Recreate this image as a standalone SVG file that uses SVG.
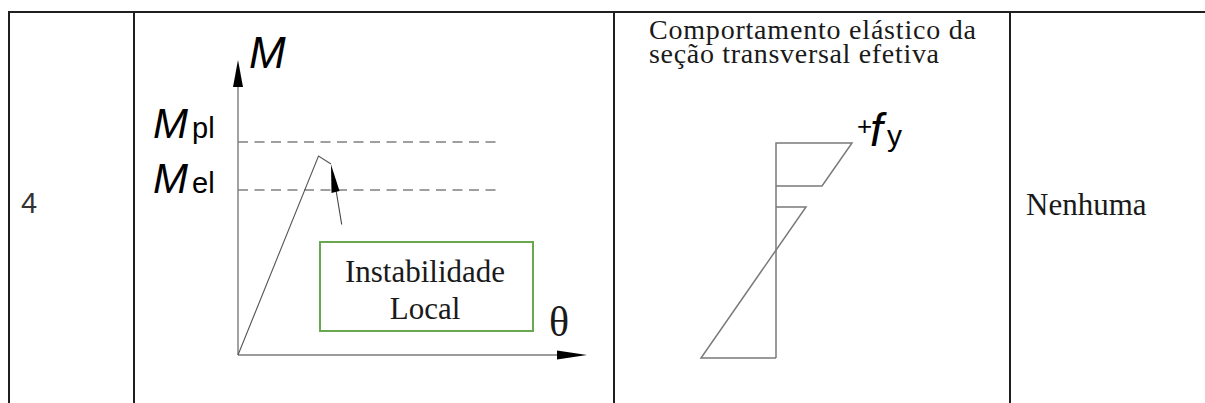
<svg xmlns="http://www.w3.org/2000/svg" width="1205" height="403" viewBox="0 0 1205 403">
  <style>
    .grid { stroke: #1f1f1f; stroke-width: 2; fill: none; }
    .axis { stroke: #7a7a7a; stroke-width: 1.4; fill: none; }
    .dash { stroke: #808080; stroke-width: 1.3; stroke-dasharray: 10 6.5; fill: none; }
    .curve { stroke: #555; stroke-width: 1.1; fill: none; }
    .stress { stroke: #7a7a7a; stroke-width: 1.5; fill: none; }
    .serif { font-family: "Liberation Serif", "Times New Roman", serif; fill: #1a1a1a; }
    .sans { font-family: "Liberation Sans", Arial, sans-serif; fill: #000; }
    .ital { font-style: italic; }
  </style>
  <rect width="1205" height="403" fill="#fff"/>

  <g id="table">
    <line class="grid" x1="8" y1="12" x2="1205" y2="12"/>
    <line class="grid" x1="9" y1="12" x2="9" y2="403"/>
    <line class="grid" x1="134" y1="12" x2="134" y2="403"/>
    <line class="grid" x1="614" y1="12" x2="614" y2="403"/>
    <line class="grid" x1="1010" y1="12" x2="1010" y2="403"/>
  </g>

  <g id="cell-number">
    <text class="sans" x="21" y="213" font-size="29" style="fill:#333">4</text>
  </g>

  <g id="moment-graph">
    <line class="axis" x1="238" y1="355" x2="238" y2="84"/>
    <path d="M238,60 L233,87 L243,87 Z" fill="#000"/>
    <line class="axis" x1="238" y1="355" x2="560" y2="355"/>
    <path d="M587,355 L557,350.5 L557,359.5 Z" fill="#000"/>
    <line class="dash" x1="238" y1="142" x2="498" y2="142"/>
    <line class="dash" x1="238" y1="190" x2="498" y2="190"/>
    <polyline class="curve" points="238,355 318.5,156 331,164"/>
    <text class="sans ital" x="249" y="68" font-size="44">M</text>
    <text class="sans" x="153" y="138" font-size="42"><tspan class="ital">M</tspan><tspan font-size="29" dx="4">pl</tspan></text>
    <text class="sans" x="153" y="193" font-size="42"><tspan class="ital">M</tspan><tspan font-size="29" dx="4">el</tspan></text>
    <text class="serif" x="549" y="336" font-size="42">θ</text>
  </g>

  <g id="label-box">
    <rect x="320" y="242" width="213" height="89" fill="none" stroke="#6aa84f" stroke-width="2"/>
    <text class="serif" x="425" y="282" font-size="31" text-anchor="middle">Instabilidade</text>
    <text class="serif" x="425" y="319" font-size="31" text-anchor="middle">Local</text>
  </g>

  <g id="connectors">
    <line x1="341.7" y1="224.5" x2="336" y2="190" stroke="#444" stroke-width="1.1"/>
    <path d="M331,164.5 L331.5,193 L339.5,191 Z" fill="#000"/>
  </g>

  <g id="stress-diagram">
    <text class="serif" x="649" y="39" font-size="28" textLength="327" lengthAdjust="spacing">Comportamento elástico da</text>
    <text class="serif" x="649" y="63" font-size="28" textLength="290" lengthAdjust="spacing">seção transversal efetiva</text>
    <polyline class="stress" points="776,358 776,143 852,143 822,186 776,186"/>
    <polyline class="stress" points="776,207 806,207 701,358 776,358"/>
    <text class="sans" x="857" y="135" font-size="26">+</text>
    <text class="sans ital" x="870" y="146" font-size="46">f</text>
    <text class="sans" x="887" y="146" font-size="30">y</text>
  </g>

  <g id="cell-result">
    <text class="serif" x="1026" y="215" font-size="31">Nenhuma</text>
  </g>
</svg>
